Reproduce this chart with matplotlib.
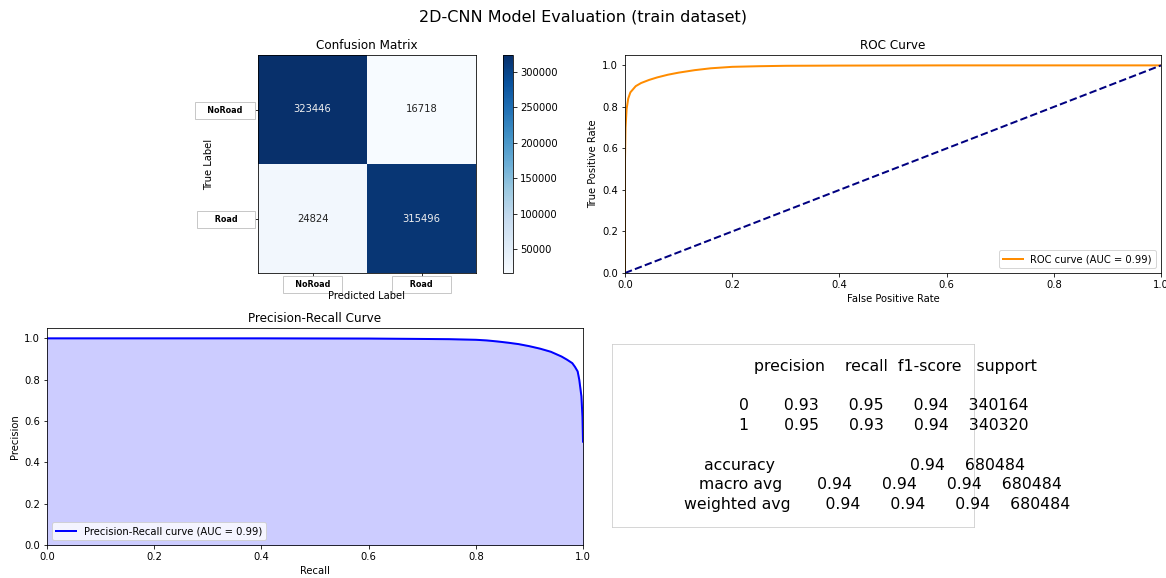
import numpy as np
import matplotlib
matplotlib.use("Agg")
import matplotlib.pyplot as plt

# ---- data ----
class_names = ["NoRoad", "Road"]
conf_matrix = [[323446, 16718],
               [24824, 315496]]

roc_fpr = [0.0, 0.0, 0.001, 0.003, 0.006, 0.01, 0.02, 0.03, 0.045, 0.06,
           0.08, 0.1, 0.13, 0.16, 0.2, 0.25, 0.3, 0.4, 0.6, 1.0]
roc_tpr = [0.0, 0.55, 0.70, 0.79, 0.84, 0.87, 0.90, 0.915, 0.93, 0.942,
           0.955, 0.965, 0.977, 0.986, 0.993, 0.996, 0.998, 0.999, 1.0, 1.0]
roc_auc = 0.99

pr_recall = [0.0, 0.2, 0.4, 0.6, 0.7, 0.75, 0.8, 0.82, 0.84, 0.86, 0.88,
             0.9, 0.92, 0.94, 0.96, 0.97, 0.98, 0.985, 0.99, 0.993, 0.997,
             0.999, 1.0]
pr_precision = [1.0, 1.0, 1.0, 0.999, 0.997, 0.996, 0.993, 0.99, 0.985,
                0.979, 0.972, 0.962, 0.95, 0.935, 0.912, 0.897, 0.88, 0.862,
                0.84, 0.80, 0.72, 0.62, 0.50]
pr_auc = 0.99

report_labels = ["0", "1"]
report_precision = [0.93, 0.95]
report_recall = [0.95, 0.93]
report_f1 = [0.94, 0.94]
report_support = [340164, 340320]
accuracy = 0.94
macro_avg = [0.94, 0.94, 0.94]
weighted_avg = [0.94, 0.94, 0.94]
total_support = 680484


def build_report():
    width = len("weighted avg")
    headers = ["precision", "recall", "f1-score", "support"]
    head_fmt = "{:>{width}s} " + " {:>9}" * len(headers)
    text = head_fmt.format("", *headers, width=width) + "\n\n"
    row_fmt = "{:>{width}s} " + " {:>9.2f}" * 3 + " {:>9}\n"
    for lab, p, r, f, s in zip(report_labels, report_precision, report_recall,
                               report_f1, report_support):
        text += row_fmt.format(lab, p, r, f, s, width=width)
    text += "\n"
    text += ("{:>{width}s} " + " {:>9}" * 2 + " {:>9.2f}" + " {:>9}\n").format(
        "accuracy", "", "", accuracy, total_support, width=width)
    text += row_fmt.format("macro avg", *macro_avg, total_support, width=width)
    text += row_fmt.format("weighted avg", *weighted_avg, total_support, width=width)
    return text


W, H = 1166, 578
fig = plt.figure(figsize=(W / 72, H / 72), dpi=72)


def px_axes(x0, y0, x1, y1):
    return fig.add_axes([x0 / W, 1 - y1 / H, (x1 - x0) / W, (y1 - y0) / H])


fig.suptitle("2D-CNN Model Evaluation (train dataset)", fontsize=16, y=0.983)

# ---- confusion matrix ----
ax_cm = px_axes(258, 55, 476, 273)
cax = px_axes(503, 55, 513, 273)
cm = np.array(conf_matrix)
im = ax_cm.imshow(cm, cmap="Blues", interpolation="nearest", aspect="auto")
cb = fig.colorbar(im, cax=cax)
cb.set_ticks([50000, 100000, 150000, 200000, 250000, 300000])
thresh = cm.max() / 2
for i in range(cm.shape[0]):
    for j in range(cm.shape[1]):
        ax_cm.text(j, i, str(cm[i, j]), ha="center", va="center",
                   color="#f0f0f0" if cm[i, j] > thresh else "#222222", fontsize=10)
box = dict(boxstyle="square,pad=0.5", facecolor="white", edgecolor="#bbbbbb", lw=0.8)
padded = ["   NoRoad   ", "     Road     "]
ax_cm.set_xticks(range(len(class_names)))
ax_cm.set_yticks(range(len(class_names)))
ax_cm.set_xticklabels(padded, fontsize=8, fontweight="bold", bbox=box)
ax_cm.set_yticklabels(padded, fontsize=8, fontweight="bold", bbox=box)
ax_cm.set_title("Confusion Matrix")
ax_cm.set_xlabel("Predicted Label")
ax_cm.set_ylabel("True Label")
ax_cm.xaxis.set_label_coords(0.5, -0.083)
ax_cm.yaxis.set_label_coords(-0.2, 0.5)

# ---- ROC curve ----
ax_roc = px_axes(625, 55, 1161, 273)
ax_roc.plot(roc_fpr, roc_tpr, color="darkorange", lw=2,
            label="ROC curve (AUC = %0.2f)" % roc_auc)
ax_roc.plot([0, 1], [0, 1], color="navy", lw=2, linestyle="--")
ax_roc.set_xlim(0.0, 1.0)
ax_roc.set_ylim(0.0, 1.05)
ax_roc.set_xlabel("False Positive Rate")
ax_roc.set_ylabel("True Positive Rate")
ax_roc.set_title("ROC Curve")
ax_roc.legend(loc="lower right")

# ---- Precision-Recall curve ----
ax_pr = px_axes(47, 328, 583, 545)
ax_pr.plot(pr_recall, pr_precision, color="blue", lw=2,
           label="Precision-Recall curve (AUC = %0.2f)" % pr_auc)
ax_pr.fill_between(pr_recall, pr_precision, color="blue", alpha=0.2)
ax_pr.set_xlim(0.0, 1.0)
ax_pr.set_ylim(0.0, 1.05)
ax_pr.set_xlabel("Recall")
ax_pr.set_ylabel("Precision")
ax_pr.set_title("Precision-Recall Curve")
ax_pr.legend(loc="lower left")

# ---- classification report ----
ax_rep = px_axes(612, 344, 974, 527)
ax_rep.set_xticks([])
ax_rep.set_yticks([])
for s in ax_rep.spines.values():
    s.set_color("#cccccc")
ax_rep.text(0.2, 0.5, build_report().rstrip("\n"), transform=ax_rep.transAxes,
            ha="left", va="center", multialignment="left", fontsize=15.7,
            linespacing=1.39, clip_on=False)

fig.savefig("out.png", dpi=72)
